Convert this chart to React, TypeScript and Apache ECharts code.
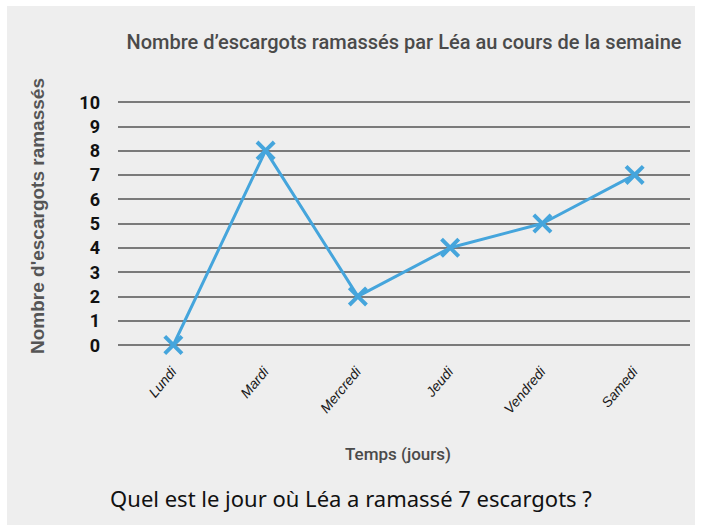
import React, { useEffect, useRef } from "react";
import * as echarts from "echarts";

const days = ["Lundi", "Mardi", "Mercredi", "Jeudi", "Vendredi", "Samedi"];
const snails = [0, 8, 2, 4, 5, 7];
const yTicks = [0, 1, 2, 3, 4, 5, 6, 7, 8, 9, 10];

const titleText = "Nombre d\u2019escargots ramassés par Léa au cours de la semaine";
const yName = "Nombre d'escargots ramassés";
const xName = "Temps (jours)";
const question = "Quel est le jour où Léa a ramassé 7 escargots ?";

const CROSS =
  "path://M2.8,0 L10,7.2 L17.2,0 L20,2.8 L12.8,10 L20,17.2 L17.2,20 L10,12.8 L2.8,20 L0,17.2 L7.2,10 L0,2.8 Z";

export default function App() {
  const ref = useRef<HTMLDivElement>(null);
  useEffect(() => {
    if (!ref.current) return;
    const chart = echarts.init(ref.current, null, { renderer: "svg" });
    const narrow = "Roboto, 'Liberation Sans', sans-serif";
    chart.setOption({
      animation: false,
      backgroundColor: "#ffffff",
      graphic: [
        {
          type: "rect",
          z: -10,
          silent: true,
          shape: { x: 7, y: 6, width: 688, height: 519 },
          style: { fill: "#eeeeee" },
        },
        {
          type: "text",
          left: "center",
          top: 487,
          style: {
            text: question,
            fontSize: 22,
            fontFamily: "'Noto Sans', 'Open Sans', sans-serif",
            fill: "#111111",
          },
        },
        {
          type: "text",
          x: 398,
          y: 454,
          style: {
            text: xName,
            align: "center",
            verticalAlign: "middle",
            fontSize: 17,
            fontWeight: 500,
            fontFamily: narrow,
            fill: "#4a4a4a",
          },
        },
        {
          type: "text",
          x: 37,
          y: 216,
          rotation: Math.PI / 2,
          style: {
            text: yName,
            align: "center",
            verticalAlign: "middle",
            fontSize: 19,
            fontWeight: "bold",
            fontFamily: "'Liberation Sans', Arial, sans-serif",
            fill: "#555555",
          },
        },
      ],
      title: {
        text: titleText,
        left: 399,
        top: 27,
        textAlign: "center",
        textStyle: {
          fontSize: 20,
          fontWeight: 500,
          color: "#4a4a4a",
          fontFamily: narrow,
        },
      },
      grid: { left: 118, right: 12, top: 102, bottom: 186 },
      xAxis: {
        type: "value",
        min: -0.6,
        max: 5.6,
        axisLine: { show: false },
        axisTick: { show: false },
        splitLine: { show: false },
        axisLabel: {
          customValues: [0, 1, 2, 3, 4, 5],
          formatter: (v: number) => days[Math.round(v)] ?? "",
          rotate: 50,
          margin: 24,
          fontSize: 14,
          fontStyle: "italic",
          color: "#1a1a1a",
          fontFamily: "'Liberation Sans', Arial, sans-serif",
        },
      },
      yAxis: {
        type: "value",
        min: 0,
        max: 10,
        interval: 1,
        axisLine: { show: false },
        axisTick: { show: false },
        axisLabel: {
          margin: 18,
          fontSize: 18,
          fontWeight: "bold",
          color: "#111111",
          fontFamily: narrow,
          formatter: (v: number) => (yTicks.includes(v) ? String(v) : ""),
        },
        splitLine: { lineStyle: { color: "#7a7a7a", width: 2 } },
      },
      series: [
        {
          type: "line",
          data: snails.map((v, i) => [i, v]),
          symbol: CROSS,
          symbolSize: 20,
          lineStyle: { color: "#45a5dc", width: 3 },
          itemStyle: { color: "#45a5dc" },
          z: 5,
        },
      ],
    });
    return () => chart.dispose();
  }, []);
  return (
    <div
      ref={ref}
      style={{ position: "absolute", left: 0, top: 0, width: 702, height: 531 }}
    />
  );
}
